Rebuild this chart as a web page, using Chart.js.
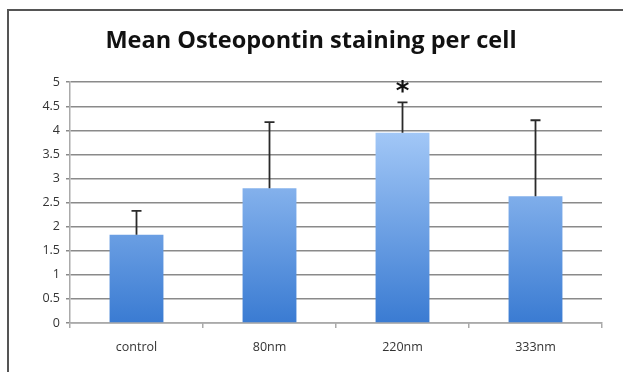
<!DOCTYPE html>
<html>
<head>
<meta charset="utf-8">
<script src="https://cdn.jsdelivr.net/npm/chart.js@4"></script>
<style>
  html, body { margin: 0; padding: 0; background: #fff; }
  #wrap { position: relative; width: 623px; height: 372px; }
  #frame { position: absolute; left: 7px; top: 9px; right: -2px; bottom: -2px; border-left: 2px solid #555; border-top: 2px solid #555; pointer-events: none; }
</style>
</head>
<body>
<div id="wrap">
  <canvas id="osteoChart" width="623" height="372"></canvas>
  <div id="frame"></div>
</div>
<script>
// chart data
const categories = ["control", "80nm", "220nm", "333nm"];
const meanValues = [1.83, 2.80, 3.95, 2.63];
const errorValues = [0.50, 1.37, 0.63, 1.58];
const starred = [false, false, true, false];
const yTicks = ["0", "0.5", "1", "1.5", "2", "2.5", "3", "3.5", "4", "4.5", "5"];

// upper error bars with caps + significance star
const errorBarPlugin = {
    id: 'errorBars',
    afterDatasetsDraw(chart) {
        const ctx = chart.ctx;
        const meta = chart.getDatasetMeta(0);
        const y = chart.scales.y;
        ctx.save();
        ctx.strokeStyle = '#2a2a2a';
        ctx.lineWidth = 1.8;
        meta.data.forEach((bar, i) => {
            const yTop = y.getPixelForValue(meanValues[i] + errorValues[i]);
            const yBase = y.getPixelForValue(meanValues[i]);
            ctx.beginPath();
            ctx.moveTo(bar.x, yBase);
            ctx.lineTo(bar.x, yTop);
            ctx.moveTo(bar.x - 5, yTop);
            ctx.lineTo(bar.x + 5, yTop);
            ctx.stroke();
            if (starred[i]) {
                ctx.fillStyle = '#111';
                ctx.font = 'bold 26px "DejaVu Sans"';
                ctx.textAlign = 'center';
                ctx.textBaseline = 'middle';
                ctx.fillText('*', bar.x, yTop - 9);
            }
        });
        ctx.restore();
    }
};

function barGradient(context) {
    const chart = context.chart;
    const area = chart.chartArea;
    if (!area) return '#5b93e0';
    const y = chart.scales.y;
    const g = chart.ctx.createLinearGradient(0, y.getPixelForValue(4), 0, y.getPixelForValue(0));
    g.addColorStop(0, '#a3c8f7');
    g.addColorStop(1, '#3a7bd2');
    return g;
}

const ctx = document.getElementById('osteoChart');
new Chart(ctx, {
    type: 'bar',
    data: {
        labels: categories,
        datasets: [{
            data: meanValues,
            backgroundColor: barGradient,
            barPercentage: 0.405,
            categoryPercentage: 1.0
        }]
    },
    options: {
        responsive: false,
        animation: false,
        layout: { padding: { left: 20, right: 21, top: 0, bottom: 0 } },
        scales: {
            x: {
                grid: { offset: true, drawOnChartArea: false, tickLength: 5, color: '#aaa', lineWidth: 1.5 },
                border: { color: '#aaa', width: 1.5 },
                ticks: { color: '#333', font: { family: 'Open Sans', size: 12.5 }, padding: 12 },
                afterFit(scale) { scale.height = 49; }
            },
            y: {
                min: 0,
                max: 5,
                ticks: {
                    stepSize: 0.5,
                    color: '#333',
                    font: { family: 'Open Sans', size: 12.5 },
                    padding: 6,
                    callback: (v, i) => yTicks[i]
                },
                grid: { color: '#8a8a8a', lineWidth: 1.5, tickLength: 4 },
                border: { color: '#aaa', width: 1.5 },
                afterFit(scale) { scale.width = 50; }
            }
        },
        plugins: {
            legend: { display: false },
            tooltip: { enabled: false },
            title: {
                display: true,
                text: 'Mean Osteopontin staining per cell',
                color: '#111',
                font: { family: 'Open Sans', size: 23.5, weight: 'bold', lineHeight: 1.2 },
                padding: { top: 27, bottom: 27 }
            }
        }
    },
    plugins: [errorBarPlugin]
});
</script>
</body>
</html>
